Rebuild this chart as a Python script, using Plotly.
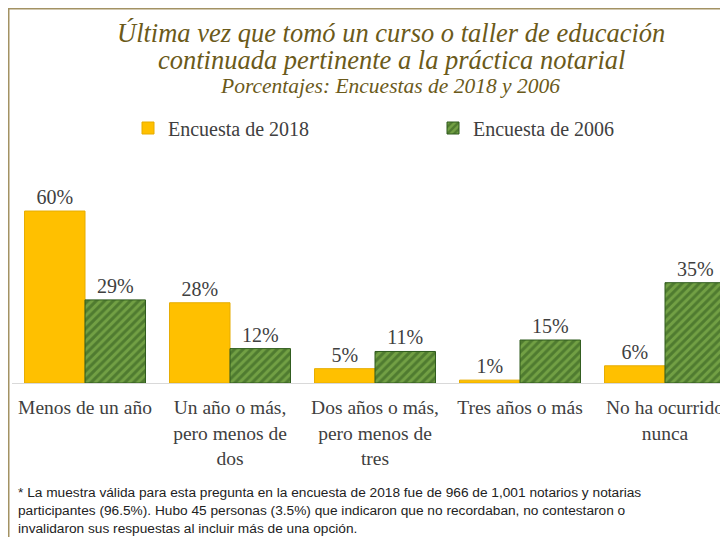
import plotly.graph_objects as go

categories = ["Menos de un año", "Un año o más,<br>pero menos de<br>dos", "Dos años o más,<br>pero menos de<br>tres", "Tres años o más", "No ha ocurrido<br>nunca"]
series_names = ["Encuesta de 2018", "Encuesta de 2006"]
values_2018 = [60, 28, 5, 1, 6]
values_2006 = [29, 12, 11, 15, 35]

# page body has an 8px margin: build the figure 8px smaller and work in reference pixel coords
OFF = 8
W, H = 728 - OFF, 537 - OFF
BASE_REF, TOP_REF, LEFT_REF = 383, 190, 12
ML, MR = LEFT_REF - OFF, 0
MT = TOP_REF - OFF
MB = H - (BASE_REF - OFF)
plot_h = H - MT - MB
plot_w = W - ML - MR
px_per_unit = 2.866
ymax = plot_h / px_per_unit
cat_px = 145.0
first_center_ref = 85.0
r0 = -(first_center_ref - LEFT_REF) / cat_px
r1 = r0 + plot_w / cat_px

def py(y_ref):
    return (BASE_REF - y_ref) / plot_h

def pxx(x_ref):
    return (x_ref - LEFT_REF) / plot_w

serif = "Liberation Serif"
label_font = dict(family=serif, size=20, color="#404040")

fig = go.Figure()
fig.add_trace(go.Bar(
    x=list(range(len(categories))), y=values_2018, name=series_names[0],
    marker=dict(color="#FFC000", line=dict(color="#E6AC00", width=1)),
    text=[f"{v}%" for v in values_2018], textposition="outside",
    textfont=label_font, cliponaxis=False,
))
fig.add_trace(go.Bar(
    x=list(range(len(categories))), y=values_2006, name=series_names[1],
    marker=dict(color="#2E5A1C", line=dict(color="#2E5A1C", width=1),
                pattern=dict(shape="/", bgcolor="#72A044", fgcolor="#2C561B", size=6, solidity=0.5)),
    text=[f"{v}%" for v in values_2006], textposition="outside",
    textfont=label_font, cliponaxis=False,
))

fig.update_layout(
    width=W, height=H,
    margin=dict(l=ML, r=MR, t=MT, b=MB, autoexpand=False),
    paper_bgcolor="white", plot_bgcolor="white",
    barmode="group", bargap=0.166, bargroupgap=0,
    showlegend=True,
    legend=dict(orientation="h", x=pxx(128), y=py(128), xanchor="left", yanchor="middle",
                font=dict(family=serif, size=20, color="#404040"),
                entrywidth=260, entrywidthmode="pixels", itemwidth=30,
                bgcolor="rgba(0,0,0,0)"),
    xaxis=dict(range=[r0, r1], tickmode="array", tickvals=list(range(len(categories))),
               ticktext=categories, showgrid=False, zeroline=False,
               showline=True, linecolor="#D9D9D9", linewidth=1, ticks="",
               ticklabelstandoff=7,
               tickfont=dict(family=serif, size=19.5, color="#404040"), fixedrange=True),
    yaxis=dict(range=[0, ymax], showticklabels=False, showgrid=False, zeroline=False,
               showline=False, fixedrange=True),
    font=dict(family=serif),
)

title_color = "#6B5A1A"
fig.add_annotation(text="<i>Última vez que tomó un curso o taller de educación</i>",
                   xref="paper", yref="paper", x=pxx(391), y=py(33), showarrow=False,
                   xanchor="center", yanchor="middle",
                   font=dict(family=serif, size=26.5, color=title_color))
fig.add_annotation(text="<i>continuada pertinente a la práctica notarial</i>",
                   xref="paper", yref="paper", x=pxx(391), y=py(60), showarrow=False,
                   xanchor="center", yanchor="middle",
                   font=dict(family=serif, size=26.5, color=title_color))
fig.add_annotation(text="<i>Porcentajes: Encuestas de 2018 y 2006</i>",
                   xref="paper", yref="paper", x=pxx(390), y=py(86), showarrow=False,
                   xanchor="center", yanchor="middle",
                   font=dict(family=serif, size=21.5, color=title_color))

foot = ("* La muestra válida para esta pregunta en la encuesta de 2018 fue de 966 de 1,001 notarios y notarias<br>"
        "participantes (96.5%). Hubo 45 personas (3.5%) que indicaron que no recordaban, no contestaron o<br>"
        "invalidaron sus respuestas al incluir más de una opción.")
fig.add_annotation(text=foot, xref="paper", yref="paper", x=pxx(16), y=py(483), showarrow=False,
                   xanchor="left", yanchor="top", align="left",
                   font=dict(family="Liberation Sans, sans-serif", size=13.7, color="#222222"))

fig.add_shape(type="rect", xref="paper", yref="paper",
              x0=pxx(8.5), x1=pxx(760), y0=py(560), y1=py(8.5),
              line=dict(color="#A39263", width=2), fillcolor="rgba(0,0,0,0)", layer="above")

fig.write_html("out.html")
